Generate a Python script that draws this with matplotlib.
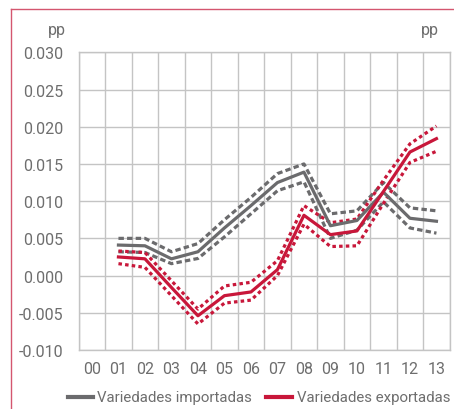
import numpy as np
import matplotlib
matplotlib.use("Agg")
import matplotlib.pyplot as plt
from matplotlib.lines import Line2D

years = ["00", "01", "02", "03", "04", "05", "06", "07", "08", "09", "10", "11", "12", "13"]
nan = np.nan

imp_mid = [nan, 0.0041, 0.0040, 0.00225, 0.0032, 0.0064, 0.0094, 0.0125, 0.0139, 0.0067, 0.0074, 0.0112, 0.0077, 0.0073]
imp_hi  = [nan, 0.0050, 0.0050, 0.0032, 0.0043, 0.0075, 0.0105, 0.0137, 0.0150, 0.0083, 0.0087, 0.0125, 0.0091, 0.0087]
imp_lo  = [nan, 0.0032, 0.0031, 0.0016, 0.0023, 0.0052, 0.0083, 0.0114, 0.0126, 0.0050, 0.0061, 0.0099, 0.0064, 0.0057]

exp_mid = [nan, 0.0025, 0.00225, -0.0016, -0.0054, -0.0027, -0.0022, 0.0008, 0.0081, 0.0055, 0.0060, 0.0113, 0.0166, 0.0184]
exp_hi  = [nan, 0.0033, 0.0031, -0.0007, -0.0045, -0.0014, -0.0009, 0.0020, 0.0094, 0.0071, 0.0076, 0.0128, 0.0177, 0.0201]
exp_lo  = [nan, 0.0016, 0.0011, -0.0027, -0.0065, -0.0037, -0.0033, 0.0000, 0.0069, 0.0039, 0.0040, 0.0097, 0.0152, 0.0167]

yticks = [-0.010, -0.005, 0.000, 0.005, 0.010, 0.015, 0.020, 0.025, 0.030]
series_names = ["Variedades importadas", "Variedades exportadas"]

GRAY = "#6b6b6d"
RED = "#c8173a"
GRID = "#c4c4c4"
TEXT = "#6e6e6e"
FRAME = "#d4566f"

plt.rcParams["font.family"] = ["Roboto", "DejaVu Sans"]

W, H = 454, 410
fig = plt.figure(figsize=(W / 100, H / 100), dpi=100)
ax = fig.add_axes([78.7 / W, 1 - 351 / H, 371 / W, 297.7 / H])

x = np.arange(len(years))
lw = 2.3
ax.plot(x, imp_hi, color=GRAY, lw=lw, dashes=(1.7, 1.0))
ax.plot(x, imp_lo, color=GRAY, lw=lw, dashes=(1.7, 1.0))
ax.plot(x, exp_hi, color=RED, lw=lw, dashes=(1.1, 1.0))
ax.plot(x, exp_lo, color=RED, lw=lw, dashes=(1.1, 1.0))
ax.plot(x, imp_mid, color=GRAY, lw=lw)
ax.plot(x, exp_mid, color=RED, lw=lw)

ax.set_xlim(-0.5, len(years) - 0.5)
ax.set_ylim(-0.010, 0.030)
ax.set_xticks(x)
ax.set_xticklabels(years)
ax.set_xticks(np.arange(-0.5, len(years), 1.0), minor=True)
ax.set_yticks(yticks)
ax.set_yticklabels([f"{v:.3f}" for v in yticks])
ax.grid(True, which="minor", axis="x", color=GRID, lw=1.0)
ax.grid(True, which="major", axis="y", color=GRID, lw=1.0)
ax.set_axisbelow(True)
ax.tick_params(axis="both", which="both", length=0, labelsize=11.5, colors=TEXT)
ax.tick_params(axis="y", pad=11)
ax.tick_params(axis="x", pad=8)
for s in ax.spines.values():
    s.set_color(GRID)
    s.set_linewidth(1.0)

fig.text(57 / W, 1 - 31 / H, "pp", ha="center", va="center", fontsize=11.5, color=TEXT)
fig.text(430 / W, 1 - 31 / H, "pp", ha="center", va="center", fontsize=11.5, color=TEXT)

# legend row drawn by hand so both entries fit on one line
ly = 1 - 398 / H
for (x0, x1, tx), color, name in zip([(68, 93, 97), (266, 292, 297)], [GRAY, RED], series_names):
    fig.add_artist(Line2D([x0 / W, x1 / W], [ly, ly], transform=fig.transFigure, color=color, lw=3))
    fig.text(tx / W, ly, name, ha="left", va="center", fontsize=10.8, color=TEXT)

# thin frame on the top and left edges
fig.add_artist(Line2D([11 / W, 11 / W], [0, 1 - 9.5 / H], transform=fig.transFigure, color=FRAME, lw=1.0))
fig.add_artist(Line2D([11 / W, 1], [1 - 9.5 / H, 1 - 9.5 / H], transform=fig.transFigure, color=FRAME, lw=1.0))

fig.savefig("out.png", dpi=100)
